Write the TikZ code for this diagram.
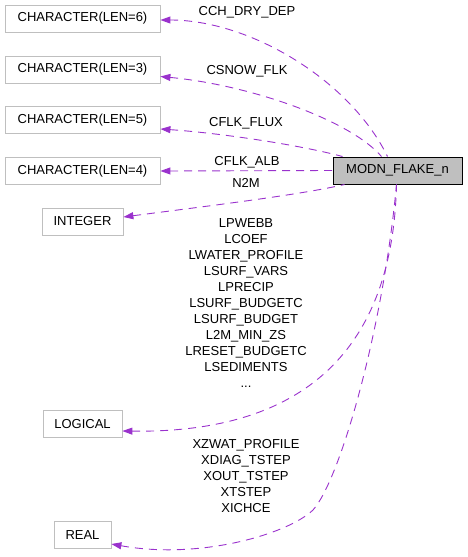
\documentclass[tikz,border=0pt]{standalone}
\usepackage{fontspec}
\setmainfont{Liberation Sans}
\usetikzlibrary{arrows.meta,calc}
\definecolor{edgec}{HTML}{9A32CD}
\definecolor{boxc}{HTML}{BFBFBF}
\tikzset{
  typebox/.style={draw=boxc, line width=0.8pt, minimum height=27pt, inner sep=0pt, font=\fontsize{13pt}{16pt}\selectfont},
  mainbox/.style={draw=black, fill=boxc, line width=1pt, minimum height=27pt, minimum width=129pt, inner sep=0pt, font=\fontsize{13pt}{16pt}\selectfont},
  edge/.style={draw=edgec, line width=0.9pt, dash pattern=on 8pt off 6pt, {Triangle[length=10pt,width=7pt,fill=edgec]}-},
  lbl/.style={font=\fontsize{13pt}{16pt}\selectfont, inner sep=0pt, align=center}
}
\begin{document}
\begin{tikzpicture}[x=1pt,y=-1pt]
\useasboundingbox (0,0) rectangle (467,557);
\node[typebox, minimum width=155pt] (c6) at (82.5,18.5) {CHARACTER(LEN=6)};
\node[typebox, minimum width=155pt] (c3) at (82.5,69.5) {CHARACTER(LEN=3)};
\node[typebox, minimum width=155pt] (c5) at (82.5,120) {CHARACTER(LEN=5)};
\node[typebox, minimum width=155pt] (c4) at (82.5,171) {CHARACTER(LEN=4)};
\node[typebox, minimum width=81pt] (int) at (82.5,221.5) {INTEGER};
\node[typebox, minimum width=79pt] (log) at (82.5,424) {LOGICAL};
\node[typebox, minimum width=57pt] (real) at (82.5,535) {REAL};
\node[mainbox] (m) at (397.5,170.5) {MODN\_FLAKE\_n};

% edges
\draw[edge] ($(c6.east)+(0,1.5)$) .. controls (250,20) and (350,80) .. ($(m.north west)+(55,0)$);
\draw[edge] ($(c3.east)+(0,7)$) .. controls (250,85) and (350,120) .. ($(m.north west)+(49,0)$);
\draw[edge] ($(c5.east)+(0,9)$) .. controls (220,133) and (300,145) .. ($(m.north west)+(10,0)$);
\draw[edge] (c4.east) -- (m.west);
\draw[edge] ($(int.east)+(0,-4.5)$) .. controls (200,207) and (300,195) .. ($(m.south west)+(12,0)$);
\draw[edge] ($(log.east)+(0,7)$) .. controls (270,433) and (392,380) .. ($(m.south west)+(64,0)$);
\coordinate (rmid) at (313,510);
\draw[edge] ($(real.east)+(0,9)$) .. controls (200,560) and (288,534) .. (rmid) .. controls (340,480) and (383,330) .. ($(m.south west)+(64,0)$);

% labels
\node[lbl] (l1) at (247,12) {CCH\_DRY\_DEP};
\node[lbl] (l2) at (247,71) {CSNOW\_FLK};
\node[lbl] (l3) at (246,123) {CFLK\_FLUX};
\node[lbl] (l4) at (247,162) {CFLK\_ALB};
\node[lbl] (l5) at (246,183) {N2M};
\node[lbl] (l6) at (246,303) {LPWEBB\\LCOEF\\LWATER\_PROFILE\\LSURF\_VARS\\LPRECIP\\LSURF\_BUDGETC\\LSURF\_BUDGET\\L2M\_MIN\_ZS\\LRESET\_BUDGETC\\LSEDIMENTS\\...};
\node[lbl] (l7) at (246,476) {XZWAT\_PROFILE\\XDIAG\_TSTEP\\XOUT\_TSTEP\\XTSTEP\\XICHCE};
\end{tikzpicture}
\end{document}
